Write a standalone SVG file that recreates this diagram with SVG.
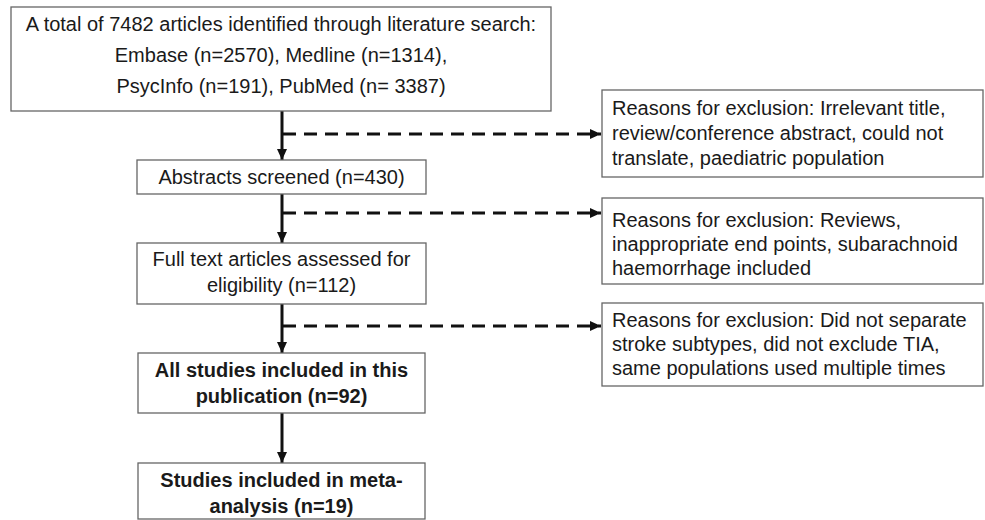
<svg xmlns="http://www.w3.org/2000/svg" width="985" height="520" viewBox="0 0 985 520">
<defs>
<style>
.box{fill:#fff;stroke:#666;stroke-width:1.3}
.t{font-family:"Liberation Sans",Arial,Helvetica,sans-serif;font-size:20px;fill:#1a1a1a}
.c{text-anchor:middle}
.b{font-weight:bold}
.solid{stroke:#111;stroke-width:3;fill:none}
.dash{stroke:#111;stroke-width:3;fill:none;stroke-dasharray:13 8}
</style>
<marker id="ah" markerUnits="userSpaceOnUse" markerWidth="12" markerHeight="12" viewBox="0 0 12 12" refX="11" refY="6" orient="auto">
<path d="M0,1 L11,6 L0,11 Z" fill="#111"/>
</marker>
</defs>
<rect width="985" height="520" fill="#fff"/>
<g id="connectors">
<line class="solid" x1="282" y1="111" x2="282" y2="160" marker-end="url(#ah)"/>
<line class="dash" x1="283" y1="134" x2="601" y2="134" marker-end="url(#ah)"/>
<line class="solid" x1="282" y1="194" x2="282" y2="243" marker-end="url(#ah)"/>
<line class="dash" x1="283" y1="213" x2="601" y2="213" marker-end="url(#ah)"/>
<line class="solid" x1="282" y1="304" x2="282" y2="353" marker-end="url(#ah)"/>
<line class="dash" x1="283" y1="326" x2="601" y2="326" marker-end="url(#ah)"/>
<line class="solid" x1="282" y1="413" x2="282" y2="463" marker-end="url(#ah)"/>
</g>
<g id="search">
<rect class="box" x="11" y="7" width="540" height="104"/>
<text class="t c" x="281" y="31">A total of 7482 articles identified through literature search:</text>
<text class="t c" x="281" y="62">Embase (n=2570), Medline (n=1314),</text>
<text class="t c" x="281" y="93">PsycInfo (n=191), PubMed (n= 3387)</text>
</g>
<g id="abstracts">
<rect class="box" x="137" y="160" width="289" height="34"/>
<text class="t c" x="281.5" y="184">Abstracts screened (n=430)</text>
</g>
<g id="fulltext">
<rect class="box" x="137" y="243" width="289" height="61"/>
<text class="t c" x="281.5" y="266">Full text articles assessed for</text>
<text class="t c" x="281.5" y="292">eligibility (n=112)</text>
</g>
<g id="included">
<rect class="box" x="138" y="353" width="287" height="60"/>
<text class="t c b" x="281.5" y="377">All studies included in this</text>
<text class="t c b" x="281.5" y="403">publication (n=92)</text>
</g>
<g id="meta">
<rect class="box" x="138" y="463" width="287" height="56"/>
<text class="t c b" x="281.5" y="487">Studies included in meta-</text>
<text class="t c b" x="281.5" y="513">analysis (n=19)</text>
</g>
<g id="excl1">
<rect class="box" x="602" y="90" width="381" height="87"/>
<text class="t" x="612" y="115">Reasons for exclusion: Irrelevant title,</text>
<text class="t" x="612" y="140">review/conference abstract, could not</text>
<text class="t" x="612" y="165">translate, paediatric population</text>
</g>
<g id="excl2">
<rect class="box" x="602" y="198" width="381" height="86"/>
<text class="t" x="612" y="227">Reasons for exclusion: Reviews,</text>
<text class="t" x="612" y="251">inappropriate end points, subarachnoid</text>
<text class="t" x="612" y="275">haemorrhage included</text>
</g>
<g id="excl3">
<rect class="box" x="602" y="303" width="381" height="83"/>
<text class="t" x="612" y="327">Reasons for exclusion: Did not separate</text>
<text class="t" x="612" y="351">stroke subtypes, did not exclude TIA,</text>
<text class="t" x="612" y="375">same populations used multiple times</text>
</g>
</svg>
